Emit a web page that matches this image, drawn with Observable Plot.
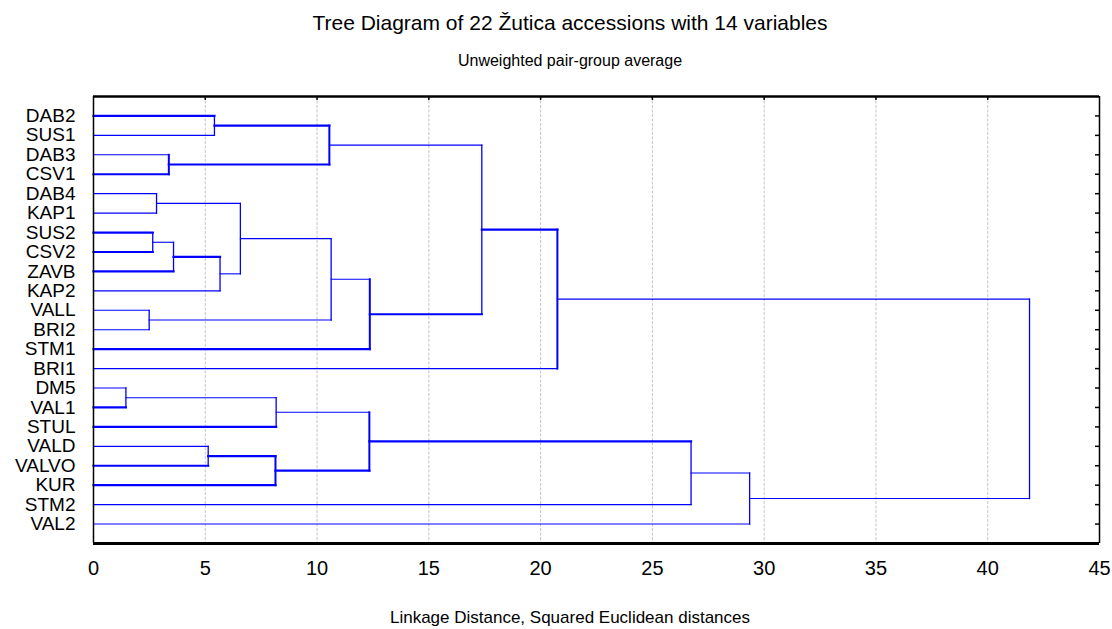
<!DOCTYPE html>
<html>
<head>
<meta charset="utf-8">
<script src="https://cdn.jsdelivr.net/npm/d3@7"></script>
<script src="https://cdn.jsdelivr.net/npm/@observablehq/plot@0.6"></script>
<style>
  body { margin: 0; background: white; font-family: "Liberation Sans", Arial, sans-serif; }
  #wrap { position: relative; width: 1112px; height: 629px; overflow: hidden; background: white; }
  .txt { position: absolute; left: 270px; width: 600px; text-align: center; line-height: 1; color: #000; white-space: nowrap; }
  #chart { position: absolute; left: 0; top: 0; }
</style>
</head>
<body>
<div id="wrap">
  <div id="chart"></div>
  <div class="txt" id="title" style="top:12px;font-size:21px;"></div>
  <div class="txt" id="subtitle" style="top:53px;font-size:16px;"></div>
  <div class="txt" id="xlabel" style="top:609px;font-size:17px;"></div>
</div>
<script>
// ---- data ----
const titleText = "Tree Diagram of 22 Žutica accessions with 14 variables";
const subtitleText = "Unweighted pair-group average";
const xLabelText = "Linkage Distance, Squared Euclidean distances";

const leaves = ["DAB2","SUS1","DAB3","CSV1","DAB4","KAP1","SUS2","CSV2","ZAVB","KAP2",
                "VALL","BRI2","STM1","BRI1","DM5","VAL1","STUL","VALD","VALVO","KUR","STM2","VAL2"];

// merges m0..m20 : child A, child B, linkage distance
const mergeA = ["DAB2","DAB3","m0","DAB4","SUS2","m4","m5","m3","VALL","m7","m9","m2","m11",
                "DM5","m13","VALD","m15","m14","m17","m18","m12"];
const mergeB = ["SUS1","CSV1","m1","KAP1","CSV2","ZAVB","KAP2","m6","BRI2","m8","STM1","m10","BRI1",
                "VAL1","STUL","VALVO","KUR","m16","STM2","VAL2","m19"];
const mergeHeight = [5.41, 3.37, 10.55, 2.82, 2.65, 3.58, 5.66, 6.57, 2.49, 10.63, 12.36, 17.37, 20.75,
                     1.45, 8.17, 5.13, 8.14, 12.34, 26.73, 29.35, 41.87];

const xTicks = [0, 5, 10, 15, 20, 25, 30, 35, 40, 45];

// ---- build dendrogram segments ----
const nodes = new Map();
leaves.forEach((name, i) => nodes.set(name, {y: i, h: 0}));
const hSegs = [], vSegs = [];
mergeA.forEach((a, k) => {
  const b = mergeB[k], h = mergeHeight[k];
  const na = nodes.get(a), nb = nodes.get(b);
  const id = "m" + k;
  nodes.set(id, {y: (na.y + nb.y) / 2, h});
  vSegs.push({id, x: h, y1: na.y, y2: nb.y});
  hSegs.push({id: a, y: na.y, x1: na.h, x2: h});
  hSegs.push({id: b, y: nb.y, x1: nb.h, x2: h});
});

// rendering emphasis (as in the original raster)
const boldH = new Set(["DAB2","m0","m1","CSV1","SUS2","CSV2","ZAVB","m5","STM1","m10","m11",
                       "VAL1","STUL","VALVO","m15","KUR","m16","m17"]);
const boldV = new Set(["m1","m2","m10","m12","m16","m17"]);

const blue = "#0000ff";
const pxX = 45 / (1099 - 93);   // data units per pixel (x)
const pxY = 23 / (543 - 96);    // data units per pixel (y)

const plot = Plot.plot({
  width: 1112,
  height: 629,
  marginTop: 96,
  marginBottom: 86,
  marginLeft: 93,
  marginRight: 13,
  style: {fontFamily: '"Liberation Sans", Arial, sans-serif', background: "white", color: "black"},
  x: {domain: [0, 45]},
  y: {domain: [-1, 22], reverse: true},
  marks: [
    Plot.ruleX([5, 10, 15, 20, 25, 30, 35, 40], {stroke: "#c4c4c4", strokeWidth: 1, strokeDasharray: "3,1.5"}),
    Plot.link(hSegs.filter(d => !boldH.has(d.id)), {x1: "x1", x2: "x2", y1: "y", y2: "y", stroke: blue, strokeWidth: 1.1, strokeLinecap: "square"}),
    Plot.link(hSegs.filter(d => boldH.has(d.id)), {x1: "x1", x2: "x2", y1: "y", y2: "y", stroke: blue, strokeWidth: 2.2, strokeLinecap: "square"}),
    Plot.link(vSegs.filter(d => !boldV.has(d.id)), {x1: "x", x2: "x", y1: "y1", y2: "y2", stroke: blue, strokeWidth: 1.3, strokeLinecap: "square"}),
    Plot.link(vSegs.filter(d => boldV.has(d.id)), {x1: "x", x2: "x", y1: "y1", y2: "y2", stroke: blue, strokeWidth: 2, strokeLinecap: "square"}),
    // right-side inward ticks at leaves
    Plot.ruleY(d3.range(leaves.length), {y: d => d, x1: 45 - 4 * pxX, x2: 45, stroke: "black", strokeWidth: 1.5}),
    // top inward ticks at gridlines
    Plot.ruleX(xTicks.slice(1, -1), {x: d => d, y1: -1, y2: -1 + 4 * pxY, stroke: "black", strokeWidth: 1.5}),
    // frame
    Plot.ruleX([0], {stroke: "black", strokeWidth: 1.5}),
    Plot.ruleX([45], {stroke: "black", strokeWidth: 1.5}),
    Plot.ruleY([-1], {stroke: "black", strokeWidth: 2.5}),
    Plot.ruleY([22], {stroke: "black", strokeWidth: 3.2}),
    Plot.axisX({ticks: xTicks, tickSize: 0, tickPadding: 17, fontSize: 20, label: null}),
    Plot.axisY({ticks: d3.range(leaves.length), tickFormat: i => leaves[i], tickSize: 0, tickPadding: 18, fontSize: 19, label: null})
  ]
});
document.getElementById("chart").appendChild(plot);
document.getElementById("title").textContent = titleText;
document.getElementById("subtitle").textContent = subtitleText;
document.getElementById("xlabel").textContent = xLabelText;
</script>
</body>
</html>
